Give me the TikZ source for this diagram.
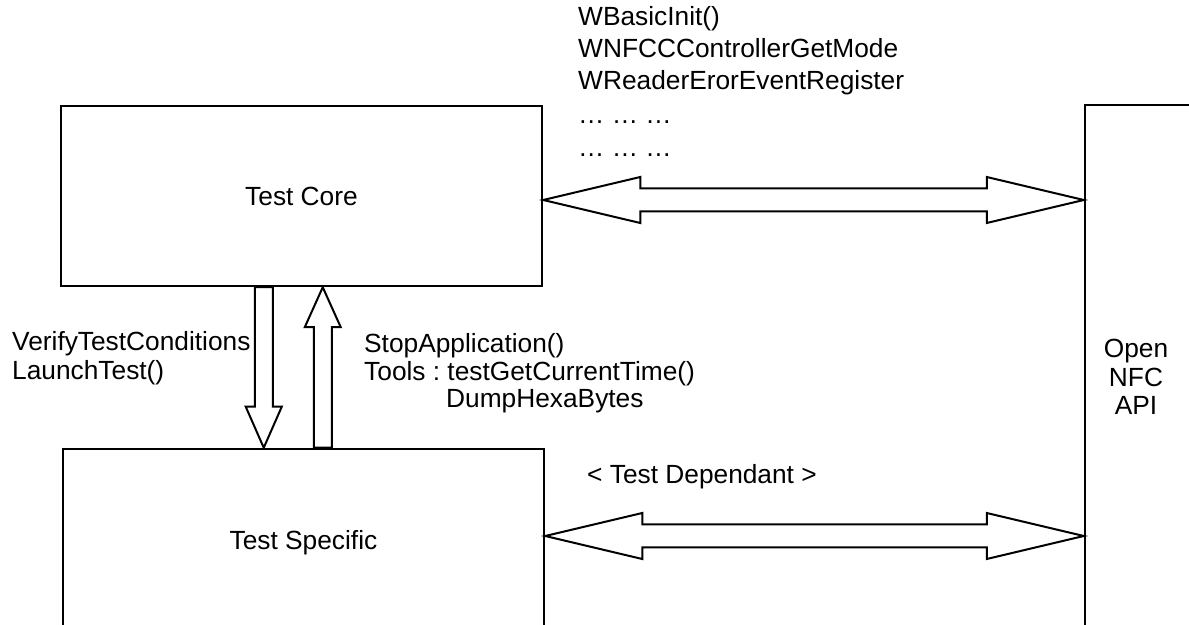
\documentclass[tikz,border=0pt]{standalone}
\usepackage{fontspec}
\setmainfont{Liberation Sans}
\usetikzlibrary{calc}
\frenchspacing
\newcommand\diagfont{\fontsize{26.3pt}{28.5pt}\selectfont}
% hollow double-headed block arrow: from, to, head length, head half width, shaft half width
\newcommand\twowayblock[5]{%
  \coordinate (ha) at ($(#1)!#3!(#2)$);
  \coordinate (hb) at ($(#2)!#3!(#1)$);
  \draw[blockline] (#1) -- ($(ha)!#4!90:(#2)$) -- ($(ha)!#5!90:(#2)$)
    -- ($(hb)!#5!90:(#2)$) -- ($(hb)!#4!90:(#2)$) -- (#2)
    -- ($(hb)!#4!-90:(#2)$) -- ($(hb)!#5!-90:(#2)$)
    -- ($(ha)!#5!-90:(#2)$) -- ($(ha)!#4!-90:(#2)$) -- cycle;}
% hollow single-headed block arrow: tail, tip, head length, head half width, shaft half width
\newcommand\onewayblock[5]{%
  \coordinate (hb) at ($(#2)!#3!(#1)$);
  \draw[blockline] ($(#1)!#5!90:(#2)$) -- ($(hb)!#5!90:(#2)$)
    -- ($(hb)!#4!90:(#2)$) -- (#2) -- ($(hb)!#4!-90:(#2)$)
    -- ($(hb)!#5!-90:(#2)$) -- ($(#1)!#5!-90:(#2)$) -- cycle;}
\begin{document}
\begin{tikzpicture}[x=1pt,y=1pt,
  box/.style={draw, line width=2.5pt, inner sep=0pt, text height=19pt, text depth=0pt, font=\diagfont},
  blockline/.style={draw, line width=2pt, line join=miter},
  lbl/.style={font=\diagfont, inner sep=0pt, anchor=base west}]
\fill[white] (0,0) rectangle (1189,624);
\path[use as bounding box] (0,0) rectangle (1189,624);
\clip (0,0) rectangle (1189,624);

% blocks
\node[box, minimum width=481pt, minimum height=180pt] (core) at (301.5,428) {Test Core};
\node[box, minimum width=481pt, minimum height=182pt] (specific) at (303.5,84) {Test Specific};
\node[box, minimum width=240pt, minimum height=540pt] (api) at (1205,249) {};
\node[font=\diagfont, align=center, inner sep=0pt] (apitext) at (1136,247) {Open\\NFC\\API};

% API calls listed above the upper link
\node[lbl] (f1) at (578,598) {WBasicInit()};
\node[lbl] (f2) at (578,566) {WNFCCControllerGetMode};
\node[lbl] (f3) at (578,534) {WReaderErorEventRegister};
\node[lbl] (f4) at (578,500) {… … …};
\node[lbl] (f5) at (578,467) {… … …};

% calls between core and specific parts
\node[lbl] (v1) at (12,273) {VerifyTestConditions};
\node[lbl] (v2) at (12,244) {LaunchTest()};
\node[lbl] (s1) at (364,271) {StopApplication()};
\node[lbl] (s2) at (364,243) {Tools : testGetCurrentTime()};
\node[lbl] (s3) at (446,216) {DumpHexaBytes};
\node[lbl] (dep) at (587,140) {< Test Dependant >};

% links
\coordinate (t1) at ($(core.east)+(0,-4)$);
\coordinate (t2) at (api.west |- t1);
\twowayblock{t1}{t2}{97pt}{23pt}{11.5pt}
\coordinate (b1) at ($(specific.east)+(0,4)$);
\coordinate (b2) at (api.west |- b1);
\twowayblock{b1}{b2}{97pt}{23pt}{11.5pt}
\coordinate (d1) at ($(core.south west)+(204,0)$);
\coordinate (d2) at (d1 |- specific.north);
\onewayblock{d1}{d2}{41pt}{18pt}{9pt}
\coordinate (u1) at ($(specific.north west)+(261,0)$);
\coordinate (u2) at (u1 |- core.south);
\onewayblock{u1}{u2}{40pt}{18pt}{9pt}
\end{tikzpicture}
\end{document}
